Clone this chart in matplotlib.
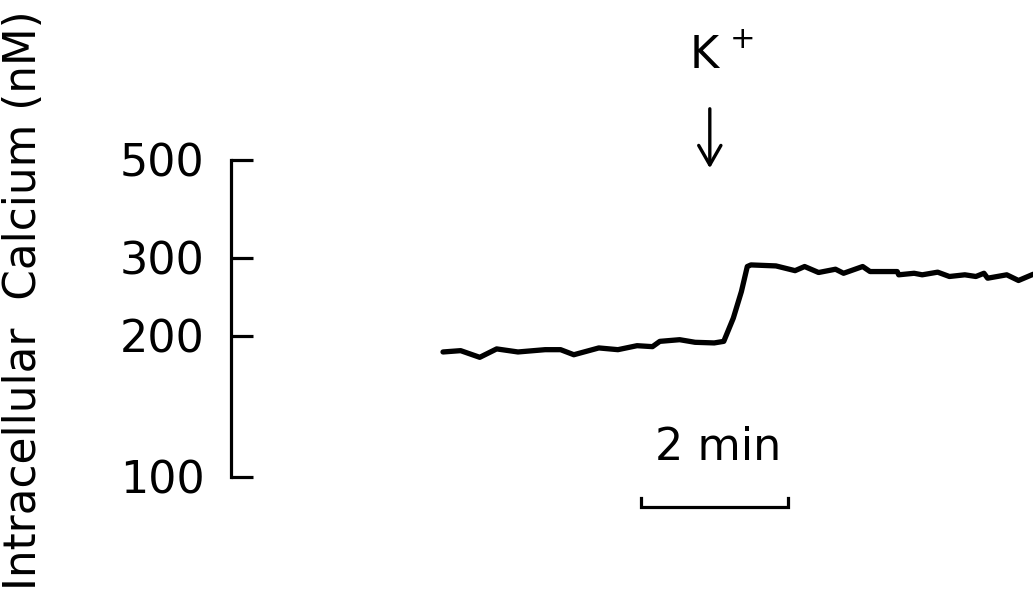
import numpy as np
import matplotlib

matplotlib.use("Agg")
import matplotlib.pyplot as plt

# calcium trace, time in minutes, [Ca2+]i in nM
time_min = [0.00, 0.24, 0.50, 0.73, 1.02, 1.39, 1.60, 1.78, 2.12, 2.38, 2.64,
            2.85, 2.95, 3.22, 3.43, 3.69, 3.82, 3.95, 4.06, 4.14, 4.19, 4.53,
            4.79, 4.92, 5.11, 5.34, 5.45, 5.71, 5.81, 6.18, 6.20, 6.41, 6.52,
            6.73, 6.89, 7.10, 7.25, 7.36, 7.41, 7.67, 7.83, 8.03]
calcium_nm = [184.9, 186.1, 180.1, 187.7, 184.9, 187.0, 187.0, 182.4, 188.6,
              187.0, 190.7, 189.8, 194.8, 196.4, 193.9, 193.3, 194.8, 219.5,
              252.0, 287.0, 289.4, 287.9, 280.9, 287.0, 278.2, 283.0, 277.1,
              287.0, 279.6, 279.6, 274.9, 277.1, 274.9, 278.7, 272.5, 274.9,
              272.5, 277.1, 270.1, 274.9, 266.9, 275.7]

yticks = [100, 200, 300, 500]
tick_heights = [0.0, 141.0, 219.0, 317.0]   # calibration scale of the ratio axis
k_time = 3.63        # K+ addition
bar_start, bar_len = 2.70, 2.0

log_ticks = np.log10(yticks)


def fwd(v):
    v = np.log10(np.clip(np.asarray(v, dtype=float), 1e-3, None))
    out = np.interp(v, log_ticks, tick_heights)
    s0 = (tick_heights[1] - tick_heights[0]) / (log_ticks[1] - log_ticks[0])
    s1 = (tick_heights[-1] - tick_heights[-2]) / (log_ticks[-1] - log_ticks[-2])
    out = np.where(v < log_ticks[0], tick_heights[0] + (v - log_ticks[0]) * s0, out)
    out = np.where(v > log_ticks[-1], tick_heights[-1] + (v - log_ticks[-1]) * s1, out)
    return out


def inv(h):
    h = np.asarray(h, dtype=float)
    out = np.interp(h, tick_heights, log_ticks)
    s0 = (log_ticks[1] - log_ticks[0]) / (tick_heights[1] - tick_heights[0])
    s1 = (log_ticks[-1] - log_ticks[-2]) / (tick_heights[-1] - tick_heights[-2])
    out = np.where(h < tick_heights[0], log_ticks[0] + (h - tick_heights[0]) * s0, out)
    out = np.where(h > tick_heights[-1], log_ticks[-1] + (h - tick_heights[-1]) * s1, out)
    return 10 ** out


W, H = 1033, 602
px_per_min = 73.5
x0_px, y100_px = 443, 477

fig = plt.figure(figsize=(W / 100, H / 100), dpi=100)
ax = fig.add_axes([0, 0, 1, 1])
ax.set_yscale("function", functions=(fwd, inv))
ax.set_xlim(-x0_px / px_per_min, (W - x0_px) / px_per_min)
ax.set_ylim(float(inv(y100_px - H)), float(inv(y100_px)))
ax.patch.set_visible(False)

ax.plot(time_min, calcium_nm, color="black", lw=3.8, solid_joinstyle="round",
        solid_capstyle="round")

for s in ["top", "right", "bottom"]:
    ax.spines[s].set_visible(False)
ax.spines["left"].set_position(("data", (231 - x0_px) / px_per_min))
ax.spines["left"].set_bounds(100, 500)
ax.spines["left"].set_linewidth(2.3)
ax.set_xticks([])
ax.yaxis.set_minor_locator(matplotlib.ticker.NullLocator())
ax.set_yticks(yticks)
ax.set_yticklabels([str(v) for v in yticks])
ax.tick_params(axis="y", direction="in", length=16, width=2.3, pad=19,
               labelsize=32)

fig.text(24 / W, 1 - 300 / H, "Intracellular  Calcium (nM)", rotation=90,
         ha="center", va="center", fontsize=31.5)

# stimulus marker
xt = ax.get_xaxis_transform()
ax.text(k_time - 0.08, 1 - 55 / H, "K", transform=xt,
        ha="center", va="center", fontsize=32)
ax.text(k_time + 0.45, 1 - 40 / H, "+", transform=xt,
        ha="center", va="center", fontsize=22)
ax.annotate("", xy=(k_time, 1 - 171 / H), xytext=(k_time, 1 - 106 / H),
            xycoords=xt,
            arrowprops=dict(arrowstyle="->,head_length=1.4,head_width=0.8",
                            lw=2.4, color="black"))

# time scale bar
bar_y = 1 - 507 / H
tick_h = 9 / H
ax.plot([bar_start, bar_start, bar_start + bar_len, bar_start + bar_len],
        [bar_y + tick_h, bar_y, bar_y, bar_y + tick_h], color="black", lw=2.3,
        transform=xt, solid_joinstyle="miter")
ax.text(bar_start + bar_len / 2 + 0.04, 1 - 447 / H, "2 min",
        transform=xt, ha="center", va="center", fontsize=32)

fig.savefig("out.png", dpi=100)
